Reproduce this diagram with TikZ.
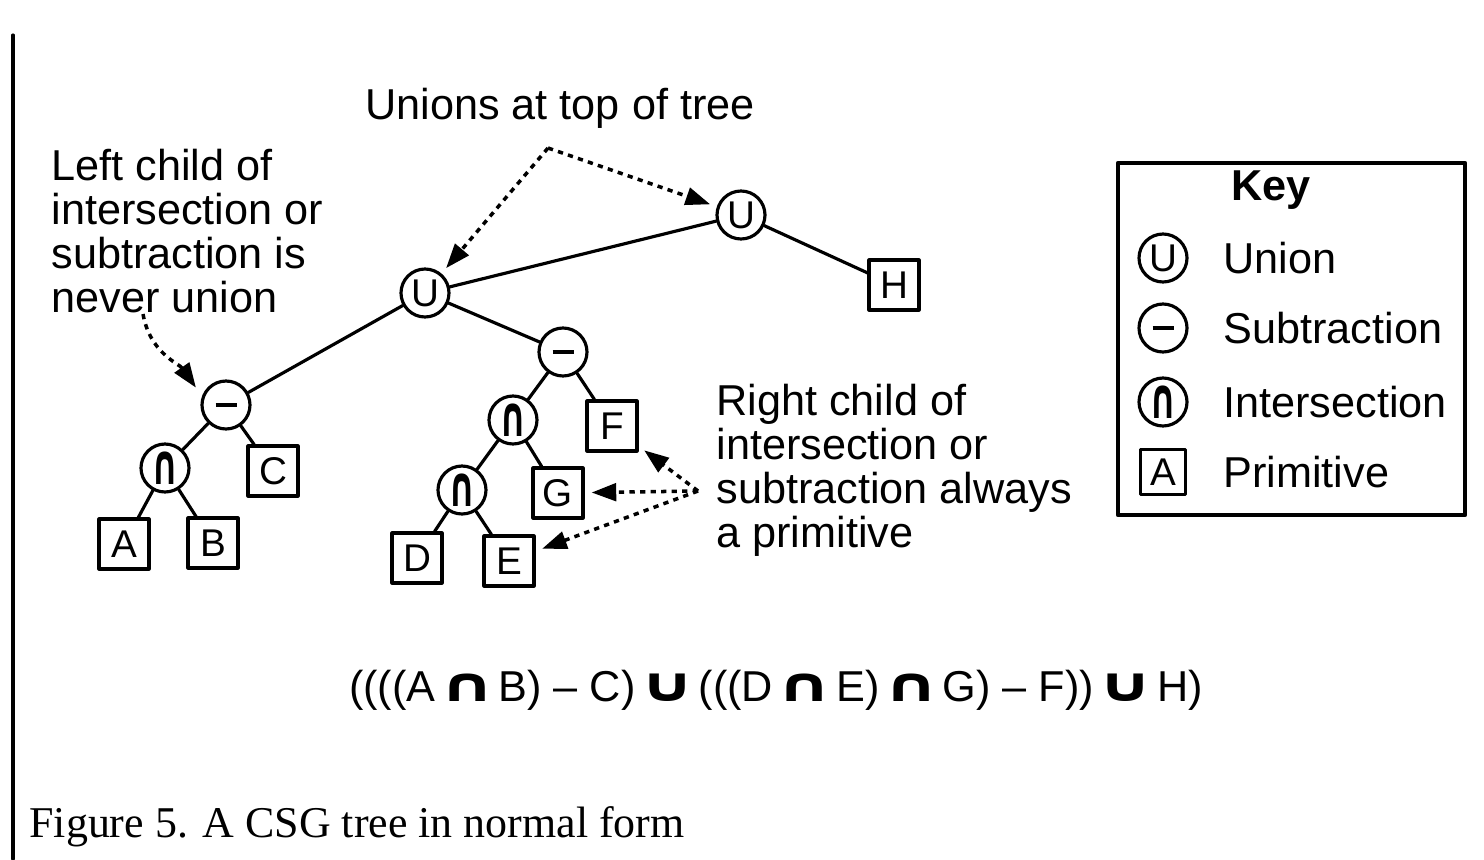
\documentclass[tikz,border=0pt]{standalone}
\usepackage{graphicx}
\usepackage{fontspec}
\setmainfont{Liberation Sans}
\newfontfamily\capfont{Liberation Serif}
\newfontfamily\opfont{DejaVu Sans}
\usetikzlibrary{arrows.meta}

\newcommand{\minusbar}{\rule{0.21cm}{0.9pt}}
\newcommand{\capsym}{\scalebox{0.6}[1]{\fontsize{16}{16}\selectfont\opfont\bfseries ∩}}
\newcommand{\bigcapsym}{\hspace{1pt}\scalebox{1.6}[1.1]{\opfont\bfseries ∩}\hspace{1pt}}
\newcommand{\bigcupsym}{\hspace{1pt}\scalebox{1.6}[1.1]{\opfont\bfseries ∪}\hspace{1pt}}

\begin{document}
\begin{tikzpicture}[line cap=round,line join=round,x=1.0cm,y=1.0cm,
  font=\fontsize{12.3}{12.5}\selectfont,
  op/.style={draw,circle,line width=0.9pt,minimum size=0.48cm,inner sep=0pt,font=\fontsize{11}{11}\selectfont},
  prim/.style={draw,rectangle,line width=0.9pt,minimum size=0.5cm,inner sep=0pt,font=\fontsize{11}{11}\selectfont},
  edge/.style={line width=0.9pt},
  note/.style={line width=1pt,dash pattern=on 1.5pt off 1.5pt,line cap=butt,
    -{Triangle[length=7pt,width=5pt]},shorten >=2pt}]
\useasboundingbox (0,0) rectangle (14.84,8.59);
\draw[line width=0.9pt] (0.13,8.24) -- (0.13,0.);
% the tree
\node[op] (u1) at (7.41,6.44) {U};
\node[op] (u2) at (4.25,5.66) {U};
\node[prim] (h) at (8.94,5.74) {H};
\node[op] (s1) at (2.26,4.54) {\minusbar};
\node[op] (s2) at (5.63,5.07) {\minusbar};
\node[op] (i1) at (1.65,3.91) {\capsym};
\node[prim] (c) at (2.73,3.88) {C};
\node[prim] (a) at (1.24,3.15) {A};
\node[prim] (b) at (2.13,3.16) {B};
\node[op] (i2) at (5.13,4.39) {\capsym};
\node[prim] (f) at (6.12,4.33) {F};
\node[op] (i3) at (4.62,3.69) {\capsym};
\node[prim] (g) at (5.58,3.66) {G};
\node[prim] (d) at (4.17,3.01) {D};
\node[prim] (e) at (5.09,2.98) {E};
\draw[edge] (u1) -- (u2);
\draw[edge] (u1) -- (h);
\draw[edge] (u2) -- (s1);
\draw[edge] (u2) -- (s2);
\draw[edge] (s1) -- (i1);
\draw[edge] (s1) -- (c);
\draw[edge] (i1) -- (a);
\draw[edge] (i1) -- (b);
\draw[edge] (s2) -- (i2);
\draw[edge] (s2) -- (f);
\draw[edge] (i2) -- (i3);
\draw[edge] (i2) -- (g);
\draw[edge] (i3) -- (d);
\draw[edge] (i3) -- (e);
% notes
\node (topnote) at (5.60,7.51) {Unions at top of tree};
\node[align=left,anchor=west] (leftnote) at (0.39,6.28) {Left child of\\intersection or\\subtraction is\\never union};
\node[align=left,anchor=west] (rightnote) at (7.04,3.89) {Right child of\\intersection or\\subtraction always\\a primitive};
\coordinate (apex) at (5.48,7.11);
\draw[note] (apex) -- (u2);
\draw[note] (apex) -- (u1);
\coordinate (lfoot) at (1.43,5.45);
\draw[note,shorten >=3pt] (lfoot) to[out=-80,in=125] (s1.160);
\coordinate (rfoot) at (6.98,3.68);
\draw[note] (rfoot) -- (f);
\draw[note] (rfoot) -- (g);
\draw[note] (rfoot) -- (e);
% key
\draw[line width=1.2pt] (11.18,3.44) rectangle (14.65,6.96);
\node[font=\bfseries\fontsize{12.3}{12.5}\selectfont] (keytitle) at (12.71,6.69) {Key};
\node[op] (ku) at (11.63,6.01) {U};
\node[anchor=west] (kul) at (12.11,6.01) {Union};
\node[op] (ks) at (11.63,5.31) {\minusbar};
\node[anchor=west] (ksl) at (12.11,5.31) {Subtraction};
\node[op] (ki) at (11.63,4.57) {\capsym};
\node[anchor=west] (kil) at (12.11,4.57) {Intersection};
\node[prim,minimum size=0.45cm] (kp) at (11.63,3.87) {A};
\node[anchor=west] (kpl) at (12.11,3.87) {Primitive};
% expression and caption
\node (expr) at (7.76,1.69) {((((A\bigcapsym B) -- C)\bigcupsym(((D\bigcapsym E)\bigcapsym G) -- F))\bigcupsym H)};
\node[anchor=west,font=\capfont\fontsize{12.5}{13}\selectfont] (caption) at (0.17,0.32) {Figure 5. A CSG tree in normal form};
\end{tikzpicture}
\end{document}
